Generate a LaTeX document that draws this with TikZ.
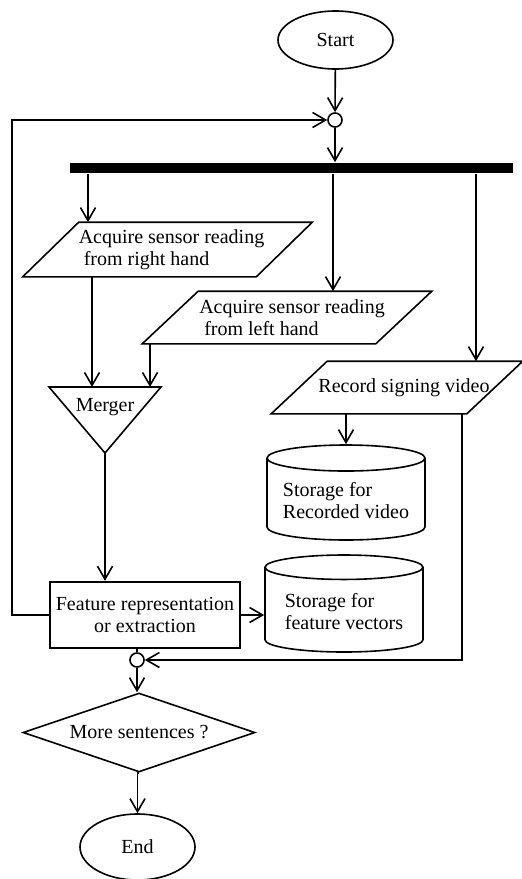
\documentclass[tikz,border=0pt]{standalone}
\usepackage{fontspec}
\setmainfont{Liberation Serif}
\usetikzlibrary{arrows.meta, positioning, shapes.geometric}

\begin{document}
\begin{tikzpicture}[
  x=0.5pt, y=-0.5pt,
  line width=0.8pt,
  every node/.style={font=\fontsize{10}{11}\selectfont, inner sep=1pt},
  arr/.style={-{Straight Barb[length=6.5pt, width=7.5pt]}},
  term/.style={ellipse, draw, minimum width=57.5pt},
  junction/.style={circle, draw, fill=white, minimum size=7pt, inner sep=0pt},
  io/.style={rectangle, align=left, append after command={\pgfextra{
    \draw ([xshift=-14pt+#1]\tikzlastnode.south west) -- ([xshift=-14pt+#1]\tikzlastnode.south east)
      -- ([xshift=14pt+#1]\tikzlastnode.north east) -- ([xshift=14pt+#1]\tikzlastnode.north west) -- cycle;}}},
  io/.default=0pt,
  store/.style={cylinder, draw, shape border rotate=90, aspect=0.2, minimum width=79pt, align=left, anchor=shape center},
  process/.style={rectangle, draw, line width=1.2pt, minimum width=95pt, minimum height=33pt, align=center},
  decision/.style={diamond, draw, aspect=2.9, minimum width=116pt, minimum height=39.5pt, inner sep=0pt}
]
\useasboundingbox (0,0) rectangle (522,879);

% Start and first junction
\node[term, minimum height=29pt] (start) at (335.5,40) {Start};
\node[junction] (j1) at (335,120) {};

% Fork bar
\node[rectangle, fill=black, minimum width=221.5pt, minimum height=5pt, inner sep=0pt] (bar) at (291.5,168) {};

% Input steps (text sits a little right of the outline centre)
\node[io=-2pt, minimum width=116pt, minimum height=26.5pt] (right) at (171.5,249.5) {Acquire sensor reading\\\hspace*{2.5pt}from right hand};
\node[io=-2.5pt, minimum width=116pt, minimum height=25.5pt] (left) at (292,317.5) {Acquire sensor reading\\\hspace*{2.5pt}from left hand};
\node[io=-3.5pt, minimum width=97pt, minimum height=25.5pt] (video) at (404,387.5) {Record signing video};

% Merger
\coordinate (mtl) at (49,387);
\coordinate (mtr) at (161,387);
\coordinate (mtop) at (105,387);
\coordinate (mbot) at (105,453);
\draw (mtl) -- (mtr) -- (mbot) -- cycle;
\node (merger) at (105,407) {Merger};

% Storage
\node[store, minimum height=47.5pt] (vidstore) at (346,492.5) {Storage for\\Recorded video};
\node[store, minimum height=48.5pt] (featstore) at (344,603.5) {Storage for\\feature vectors};

% Feature step, second junction, decision, end
\node[process] (feat) at (145,615) {Feature representation\\or extraction};
\node[junction] (j2) at (137,660) {};
\node[decision] (more) at (139,732.5) {More sentences ?};
\node[term, minimum height=33pt] (stop) at (137.5,847) {End};
\coordinate (loop) at (12,0);

% Connectors
\draw[arr] (start) -- (j1);
\draw[arr] (j1.south) -- (j1.south |- bar.north);
\foreach \x/\n in {88/right, 333/left, 476/video} {
  \draw[arr] (bar.south -| \x,0) -- (\n.north -| \x,0);
}
\draw[arr] (right.south -| 92,0) -- (mtop -| 92,0);
\draw[arr] (left.south -| 150,0) -- (mtop -| 150,0);
\draw[arr] (mbot) -- (mbot |- feat.north);
\draw[arr] (video.south -| vidstore.north) -- (vidstore.north);
\draw[arr] (feat.east) -- (feat.east -| featstore.west);
\draw[arr] (feat.west) -- (feat.west -| loop) |- (j1.west);
\draw (j2.north |- feat.south) -- (j2.north);
\draw[arr] (video.south -| 462,0) |- (j2.east);
\draw[arr] (j2.south) -- (j2.south |- more.north);
\draw[arr] (more.south) -- (more.south -| stop.north) -- (stop.north);

\end{tikzpicture}
\end{document}
